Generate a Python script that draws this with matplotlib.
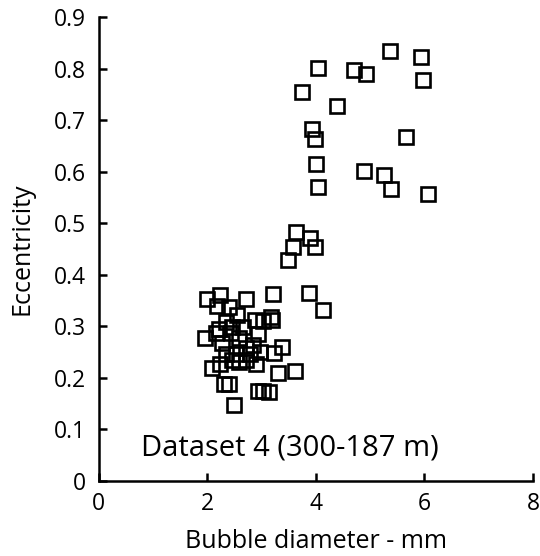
import matplotlib.pyplot as plt

# bubble diameter (mm) and eccentricity
diameter = [5.37, 5.94, 5.97, 4.04, 4.71, 4.92, 3.75, 4.38, 3.93, 3.99, 5.66,
            4.01, 4.04, 4.88, 5.26, 5.39, 6.06,
            3.63, 3.57, 3.49, 3.90, 3.98, 3.87, 4.14, 3.61, 3.30, 3.38, 3.21,
            3.17, 3.19, 3.22,
            1.99, 2.24, 2.18, 2.39, 2.72, 1.96, 2.16, 2.08, 2.24, 2.30, 2.39,
            2.49, 2.94, 3.03, 3.13, 2.34, 2.46, 2.54, 2.65, 2.87, 3.02, 2.94,
            2.27, 2.34, 2.53, 2.72, 2.84, 2.97, 2.59, 2.72, 2.90, 2.46, 2.21,
            2.59, 2.78, 2.43]
eccentricity = [0.834, 0.822, 0.778, 0.802, 0.797, 0.790, 0.755, 0.728, 0.684,
                0.663, 0.668, 0.615, 0.571, 0.601, 0.593, 0.567, 0.556,
                0.483, 0.454, 0.429, 0.472, 0.455, 0.364, 0.332, 0.214, 0.209,
                0.260, 0.363, 0.318, 0.313, 0.249,
                0.354, 0.361, 0.340, 0.337, 0.354, 0.278, 0.288, 0.220, 0.227,
                0.189, 0.189, 0.148, 0.175, 0.175, 0.172, 0.309, 0.299, 0.323,
                0.299, 0.313, 0.310, 0.285, 0.268, 0.247, 0.247, 0.258, 0.264,
                0.251, 0.230, 0.234, 0.227, 0.234, 0.295, 0.278, 0.247, 0.288]

plt.rcParams['font.family'] = ['Open Sans', 'DejaVu Sans']

fig = plt.figure(figsize=(5.4, 5.56), dpi=100)
ax = fig.add_axes([0.183, 0.135, 0.804, 0.834])

ax.plot(diameter, eccentricity, linestyle='none', marker='s', markersize=10,
        markerfacecolor='none', markeredgecolor='black', markeredgewidth=1.9)

ax.set_xlim(0, 8)
ax.set_ylim(0, 0.9)
ax.set_xticks([0, 2, 4, 6, 8])
ax.set_yticks([0, 0.1, 0.2, 0.3, 0.4, 0.5, 0.6, 0.7, 0.8, 0.9])
ax.set_yticklabels(['0', '0.1', '0.2', '0.3', '0.4', '0.5', '0.6', '0.7', '0.8', '0.9'])
ax.tick_params(direction='in', length=6, width=1.8, labelsize=16.5)
ax.tick_params(axis='y', pad=9)
ax.tick_params(axis='x', pad=8)

for side in ['top', 'right']:
    ax.spines[side].set_visible(False)
for side in ['left', 'bottom']:
    ax.spines[side].set_linewidth(1.8)

ax.set_xlabel('Bubble diameter - mm', fontsize=18, labelpad=9)
ax.set_ylabel('Eccentricity', fontsize=18, labelpad=14)

ax.text(3.52, 0.05, 'Dataset 4 (300-187 m)', fontsize=21,
        ha='center', va='baseline')

fig.savefig('out.png', dpi=100)
